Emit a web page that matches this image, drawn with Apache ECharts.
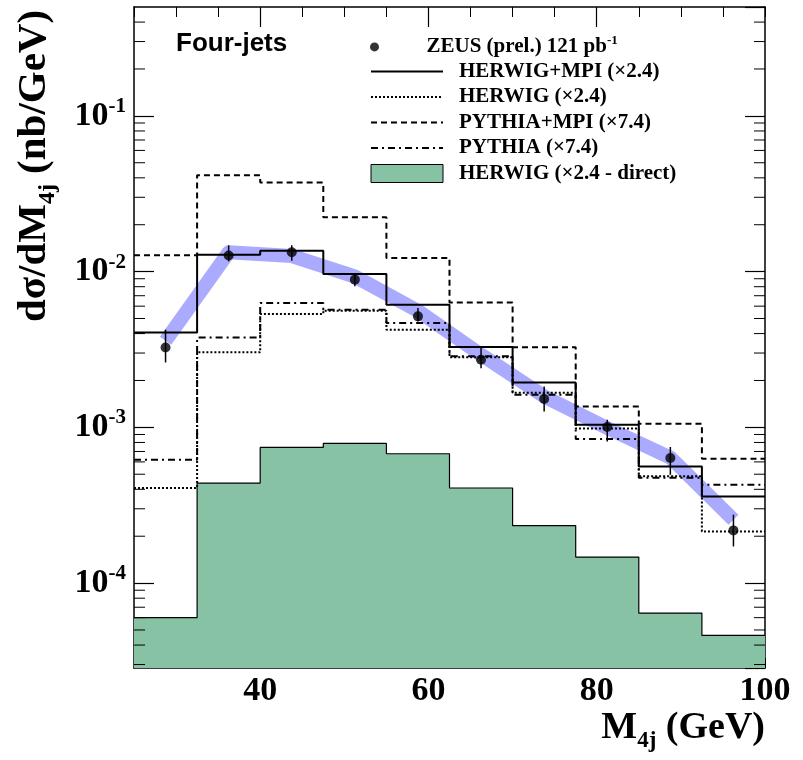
<!DOCTYPE html>
<html>
<head>
<meta charset="utf-8">
<title>Four-jets M4j</title>
<script src="https://cdn.jsdelivr.net/npm/echarts@6/dist/echarts.min.js"></script>
<style>
    html, body { margin: 0; padding: 0; background: #fff; }
    #main { width: 803px; height: 760px; }
</style>
</head>
<body>
<div id="main"></div>
<script>
// bins (GeV)
var binEdges = [25, 32.5, 40, 47.5, 55, 62.5, 70, 77.5, 85, 92.5, 100];
var binCentres = [28.75, 36.25, 43.75, 51.25, 58.75, 66.25, 73.75, 81.25, 88.75, 96.25];

// ZEUS data, nb/GeV
var zeusVal = [3.26e-3, 1.27e-2, 1.33e-2, 8.88e-3, 5.16e-3, 2.72e-3, 1.52e-3, 1.005e-3, 6.35e-4, 2.18e-4];
var zeusHi = [4.24e-3, 1.475e-2, 1.475e-2, 9.56e-3, 5.84e-3, 3.23e-3, 1.83e-3, 1.12e-3, 7.48e-4, 2.75e-4];
var zeusLo = [2.61e-3, 1.164e-2, 1.176e-2, 8.04e-3, 4.79e-3, 2.40e-3, 1.265e-3, 8.12e-4, 4.96e-4, 1.72e-4];
// energy scale band
var bandVal = [3.6e-3, 1.33e-2, 1.26e-2, 9.3e-3, 5.6e-3, 2.93e-3, 1.58e-3, 9.9e-4, 6.4e-4, 2.55e-4];

// MC histograms
var herwigMpi = [4.07e-3, 1.285e-2, 1.363e-2, 9.66e-3, 6.13e-3, 3.28e-3, 1.94e-3, 1.04e-3, 5.61e-4, 3.60e-4];
var herwig = [4.08e-4, 3.03e-3, 5.35e-3, 5.61e-3, 4.24e-3, 2.82e-3, 1.67e-3, 9.84e-4, 4.85e-4, 2.145e-4];
var pythiaMpi = [1.272e-2, 4.155e-2, 3.73e-2, 2.232e-2, 1.224e-2, 6.34e-3, 3.27e-3, 1.363e-3, 1.055e-3, 6.29e-4];
var pythia = [6.19e-4, 3.78e-3, 6.29e-3, 5.70e-3, 4.68e-3, 2.86e-3, 1.62e-3, 8.41e-4, 4.75e-4, 4.28e-4];
var herwigDirect = [6.01e-5, 4.39e-4, 7.43e-4, 7.88e-4, 6.77e-4, 4.08e-4, 2.34e-4, 1.47e-4, 6.42e-5, 4.61e-5];

// axis ticks
var xTickLabels = [40, 60, 80, 100];
var xMajorTicks = [40, 60, 80];
var yMinorMantissa = [2, 3, 4, 5, 6, 7, 8, 9];
var yDecades = [-5, -4, -3, -2, -1];

var yMin = 2.85e-5, yMax = 0.5;
var serif = 'Liberation Serif';
var green = '#86c2a3';

var yMinorTicks = [];
for (var d = 0; d < yDecades.length; d++) {
    for (var m = 0; m < yMinorMantissa.length; m++) {
        var v = yMinorMantissa[m] * Math.pow(10, yDecades[d]);
        if (v > yMin && v < yMax) yMinorTicks.push([binEdges[0], v]);
    }
}

var stepData = function (vals) {
    var out = [];
    for (var i = 0; i < vals.length; i++) {
        out.push([binEdges[i], vals[i]]);
    }
    out.push([binEdges[vals.length], vals[vals.length - 1]]);
    return out;
};

var histLine = function (name, vals, type, width) {
    return {
        name: name,
        type: 'line',
        step: 'end',
        data: stepData(vals),
        symbol: 'none',
        lineStyle: {color: '#000', width: width, type: type},
        itemStyle: {color: '#000'},
        z: 4
    };
};

var legendRich = {
    t: {fontFamily: serif, fontWeight: 'bold', fontSize: 21, lineHeight: 25.8, padding: [0, 0, 0, 11], color: '#000'},
    s: {fontFamily: serif, fontWeight: 'bold', fontSize: 13, lineHeight: 14, verticalAlign: 'top', color: '#000'}
};
// hide the marker that line series put in the middle of their legend icon
var noMarker = {opacity: 0};

var chart = echarts.init(document.getElementById('main'));

var option = {
    animation: false,
    backgroundColor: '#fff',
    title: {
        text: 'Four-jets',
        left: 176,
        top: 31,
        padding: 0,
        textStyle: {fontFamily: 'Liberation Sans', fontWeight: 'bold', fontSize: 26, color: '#000'}
    },
    legend: [
        {
            data: [{name: 'ZEUS', icon: 'circle'}],
            left: 370,
            top: 34,
            padding: 0,
            itemWidth: 72,
            itemHeight: 9,
            selectedMode: false,
            formatter: function () {
                return '{t|ZEUS (prel.) 121 pb}{s|-1}';
            },
            textStyle: {rich: legendRich}
        },
        {
            data: [
                {name: 'HERWIG+MPI (×2.4)', itemStyle: noMarker},
                {name: 'HERWIG (×2.4)', itemStyle: noMarker},
                {name: 'PYTHIA+MPI (×7.4)', itemStyle: noMarker},
                {name: 'PYTHIA (×7.4)', itemStyle: noMarker},
                {name: 'HERWIG (×2.4 - direct)', icon: 'rect',
                    itemStyle: {color: green, borderColor: '#000', borderWidth: 1}}
            ],
            orient: 'vertical',
            left: 370,
            top: 61,
            padding: 0,
            itemGap: 4.5,
            itemWidth: 72,
            itemHeight: 18,
            selectedMode: false,
            formatter: function (name) {
                return '{t|' + name + '}';
            },
            textStyle: {rich: legendRich}
        }
    ],
    grid: [
        {left: 134, right: 38, top: 7, bottom: 92, outerBoundsMode: 'none'},
        {left: 134, right: 38, top: 7, bottom: 92, outerBoundsMode: 'none'}
    ],
    xAxis: [
        {
            type: 'value', gridIndex: 0, position: 'bottom',
            min: 25, max: 100, interval: 5,
            axisLine: {show: true, onZero: false, lineStyle: {color: '#000', width: 1.5}},
            axisTick: {inside: true, length: 10, lineStyle: {color: '#000', width: 1}},
            axisLabel: {
                customValues: xTickLabels, margin: 6, color: '#000',
                fontFamily: serif, fontWeight: 'bold', fontSize: 34
            },
            splitLine: {show: false}
        },
        {
            type: 'value', gridIndex: 0, position: 'top',
            min: 25, max: 100, interval: 5,
            axisLine: {show: true, onZero: false, lineStyle: {color: '#000', width: 1.5}},
            axisTick: {inside: true, length: 10, lineStyle: {color: '#000', width: 1}},
            axisLabel: {show: false},
            splitLine: {show: false}
        },
        {
            type: 'value', gridIndex: 1, position: 'bottom',
            min: 25, max: 100, interval: 5,
            axisLine: {show: false},
            axisTick: {inside: true, length: 20, customValues: xMajorTicks, lineStyle: {color: '#000', width: 1.2}},
            axisLabel: {show: false},
            splitLine: {show: false}
        },
        {
            type: 'value', gridIndex: 1, position: 'top',
            min: 25, max: 100, interval: 5,
            axisLine: {show: false},
            axisTick: {inside: true, length: 20, customValues: xMajorTicks, lineStyle: {color: '#000', width: 1.2}},
            axisLabel: {show: false},
            splitLine: {show: false}
        }
    ],
    yAxis: [
        {
            type: 'log', gridIndex: 0, position: 'left', logBase: 10,
            min: yMin, max: yMax,
            axisLine: {show: true, onZero: false, lineStyle: {color: '#000', width: 1.5}},
            axisTick: {inside: true, length: 20, lineStyle: {color: '#000', width: 1.2}},
            axisLabel: {
                margin: 8,
                showMinLabel: false,
                showMaxLabel: false,
                formatter: function (val) {
                    var e = Math.log10(val);
                    var r = Math.round(e);
                    if (Math.abs(e - r) > 0.01) return '';
                    return '{b|10}{s|' + r + '}';
                },
                rich: {
                    b: {fontFamily: serif, fontWeight: 'bold', fontSize: 34, lineHeight: 40, color: '#000'},
                    s: {fontFamily: serif, fontWeight: 'bold', fontSize: 21, lineHeight: 22, verticalAlign: 'top', color: '#000'}
                }
            },
            splitLine: {show: false}
        },
        {
            type: 'log', gridIndex: 0, position: 'right', logBase: 10,
            min: yMin, max: yMax,
            axisLine: {show: true, onZero: false, lineStyle: {color: '#000', width: 1.5}},
            axisTick: {inside: true, length: 20, lineStyle: {color: '#000', width: 1.2}},
            axisLabel: {show: false},
            splitLine: {show: false}
        },
        {type: 'value', gridIndex: 1, show: false, min: 0, max: 1}
    ],
    graphic: [
        {
            type: 'text',
            x: 765,
            y: 728,
            style: {
                text: '{m|M}{s|4j}{m| (GeV)}',
                align: 'right',
                verticalAlign: 'middle',
                rich: {
                    m: {fontFamily: serif, fontWeight: 'bold', fontSize: 38, lineHeight: 50, fill: '#000'},
                    s: {fontFamily: serif, fontWeight: 'bold', fontSize: 23, lineHeight: 23, verticalAlign: 'bottom', fill: '#000'}
                }
            }
        },
        {
            type: 'text',
            x: 34,
            y: 166,
            rotation: Math.PI / 2,
            style: {
                text: '{m|dσ/dM}{s|4j}{m| (nb/GeV)}',
                align: 'center',
                verticalAlign: 'middle',
                rich: {
                    m: {fontFamily: serif, fontWeight: 'bold', fontSize: 41, lineHeight: 52, fill: '#000'},
                    s: {fontFamily: serif, fontWeight: 'bold', fontSize: 24, lineHeight: 24, verticalAlign: 'bottom', fill: '#000'}
                }
            }
        }
    ],
    series: [
        {
            name: 'HERWIG (×2.4 - direct)',
            type: 'line',
            step: 'end',
            data: stepData(herwigDirect),
            symbol: 'none',
            lineStyle: {color: '#000', width: 1.2},
            itemStyle: {color: green, borderColor: '#000', borderWidth: 1},
            areaStyle: {color: green, opacity: 1, origin: 'start'},
            z: 1
        },
        {
            name: 'band',
            type: 'line',
            data: binCentres.map(function (x, i) { return [x, bandVal[i]]; }),
            symbol: 'none',
            lineStyle: {color: '#aaaaff', width: 14, cap: 'butt', join: 'round'},
            z: 2
        },
        histLine('HERWIG (×2.4)', herwig, [2, 2], 2),
        histLine('PYTHIA (×7.4)', pythia, [7, 4, 2, 4], 2),
        histLine('PYTHIA+MPI (×7.4)', pythiaMpi, [6, 4], 2),
        histLine('HERWIG+MPI (×2.4)', herwigMpi, 'solid', 2),
        {
            name: 'errors',
            type: 'custom',
            data: binCentres.map(function (x, i) { return [x, zeusLo[i], zeusHi[i]]; }),
            encode: {x: 0, y: [1, 2]},
            renderItem: function (params, api) {
                var lo = api.coord([api.value(0), api.value(1)]);
                var hi = api.coord([api.value(0), api.value(2)]);
                return {
                    type: 'line',
                    shape: {x1: lo[0], y1: lo[1], x2: hi[0], y2: hi[1]},
                    style: {stroke: '#000', lineWidth: 1.5}
                };
            },
            z: 5
        },
        {
            name: 'ZEUS',
            type: 'scatter',
            data: binCentres.map(function (x, i) { return [x, zeusVal[i]]; }),
            symbol: 'circle',
            symbolSize: 10,
            itemStyle: {color: '#000'},
            z: 6
        },
        {
            name: 'minor ticks',
            type: 'custom',
            data: yMinorTicks,
            encode: {x: 0, y: 1},
            silent: true,
            renderItem: function (params, api) {
                var l = api.coord([binEdges[0], api.value(1)]);
                var r = api.coord([binEdges[binEdges.length - 1], api.value(1)]);
                return {
                    type: 'group',
                    children: [
                        {type: 'line', shape: {x1: l[0], y1: l[1], x2: l[0] + 11, y2: l[1]}, style: {stroke: '#000', lineWidth: 1}},
                        {type: 'line', shape: {x1: r[0] - 11, y1: r[1], x2: r[0], y2: r[1]}, style: {stroke: '#000', lineWidth: 1}}
                    ]
                };
            },
            z: 7
        }
    ]
};

chart.setOption(option);
</script>
</body>
</html>
